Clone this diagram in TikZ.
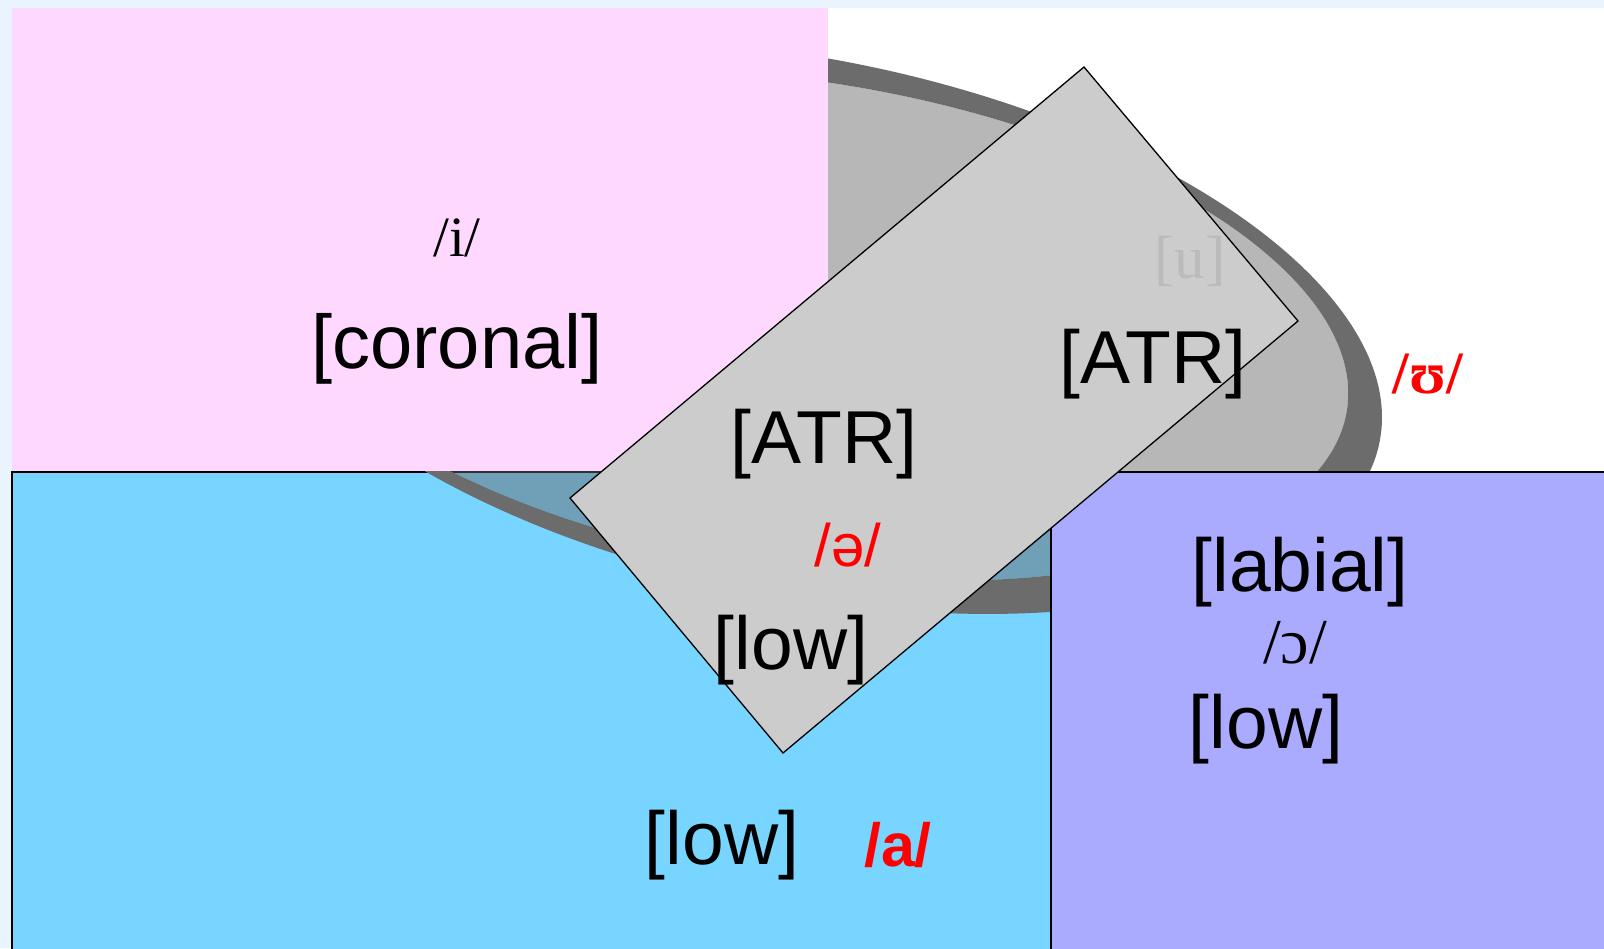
\documentclass[tikz,border=0pt]{standalone}
\usepackage{fontspec}
\setmainfont{Liberation Serif}
\newfontfamily\sansf{Liberation Sans}
\definecolor{bgblue}{HTML}{EAF4FF}
\definecolor{pinkbox}{HTML}{FFD8FF}
\definecolor{bluebox}{HTML}{77D5FF}
\definecolor{purpbox}{HTML}{AAAAFF}
\definecolor{graybox}{HTML}{CCCCCC}
\definecolor{rimgray}{HTML}{6C6C6C}
\definecolor{innergray}{HTML}{666666}
\definecolor{ugray}{HTML}{BBBBBB}
\begin{document}
\begin{tikzpicture}[x=1pt,y=-1pt,
  feat/.style={font=\sansf\fontsize{75}{80}\selectfont, anchor=base, inner sep=0pt},
  phon/.style={anchor=base, inner sep=0pt},
  edge/.style={draw=black, line width=1.3pt}]
\useasboundingbox (0,0) rectangle (1604,948);
\fill[bgblue] (0,0) rectangle (1604,948);
\fill[white] (828,8) rectangle (1604,472);
\path[fill=bluebox, edge] (12,472) rectangle (1051,960);
% ellipse: opaque rim and translucent inner disc
\fill[rimgray, even odd rule]
  {[shift={(806,327)}, rotate=-11.35] (0,0) ellipse [x radius=585, y radius=268]}
  {[shift={(800,325)}, rotate=-8.85] (0,0) ellipse [x radius=553.5, y radius=244]};
\fill[innergray, fill opacity=0.47]
  {[shift={(800,325)}, rotate=-8.85] (0,0) ellipse [x radius=553.5, y radius=244]};
\fill[pinkbox] (12,8) rectangle (828,471.3);
\path[fill=purpbox, edge] (1051,472) rectangle (1620,960);
\path[fill=graybox, edge, line join=miter] (1084,67) -- (1298,321) -- (783,753) -- (570,498) -- cycle;
% texts
\node[phon, font=\fontsize{57}{62}\selectfont] (i) at (457,256) {/i/};
\node[feat, font=\sansf\fontsize{76}{80}\selectfont] (coronal) at (457,368) {[coronal]};
\node[feat] (atrA) at (824,463) {[ATR]};
\node[feat] (atrB) at (1153,383) {[ATR]};
\node[phon, text=ugray, font=\fontsize{61}{66}\selectfont] (u) at (1190,278) {[u]};
\node[phon, text=red, font=\bfseries\fontsize{60}{66}\selectfont] (upsilon) at (1428,393) {/ʊ/};
\node[phon, text=red, font=\sansf\fontsize{60}{66}\selectfont] (schwa) at (848,566) {/ə/};
\node[feat] (lowA) at (791,669) {[low]};
\node[feat] (lowB) at (722,864) {[low]};
\node[phon, text=red, font=\sansf\bfseries\fontsize{61}{66}\selectfont] (a) at (898,866) {/a/};
\node[feat] (labial) at (1300,591) {[labial]};
\node[phon, font=\fontsize{64}{70}\selectfont] (openo) at (1295,663) {/ɔ/};
\node[feat] (lowC) at (1266,748) {[low]};
\end{tikzpicture}
\end{document}
